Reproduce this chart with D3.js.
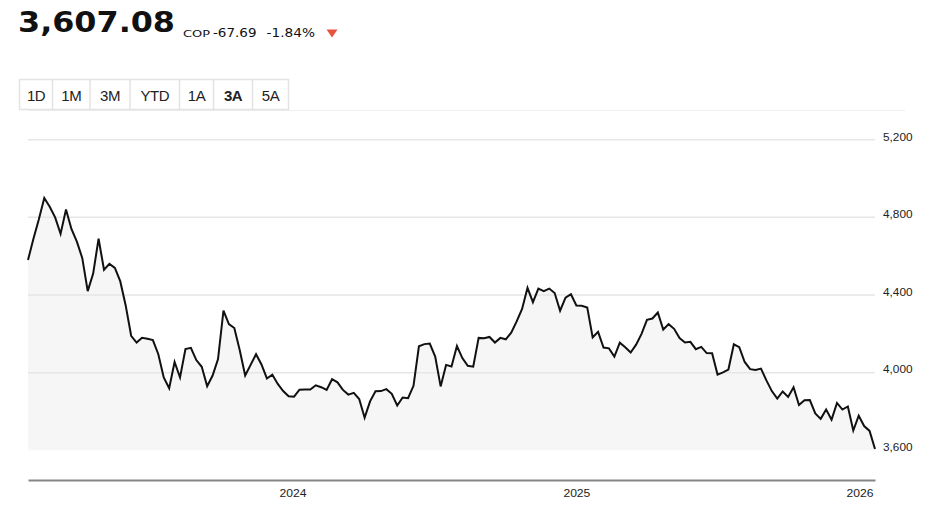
<!DOCTYPE html>
<html>
<head>
<meta charset="utf-8">
<script src="https://cdn.jsdelivr.net/npm/d3@7"></script>
<style>
  html, body { margin: 0; padding: 0; background: #fff; }
  svg { display: block; }
</style>
</head>
<body>
<svg id="chart" width="930" height="505"></svg>
<script>
// ---- data ----
const startDate = "2023-01-25";          // first weekly observation
const values = [
  4580, 4690, 4790, 4900, 4855, 4800, 4715, 4840, 4740, 4675,
  4590, 4420, 4510, 4690, 4530, 4560, 4540, 4470, 4345, 4190,
  4155, 4180, 4175, 4168, 4095, 3975, 3920, 4055, 3975, 4122,
  4128, 4065, 4030, 3930, 3985, 4070, 4320, 4250, 4230, 4115,
  3985, 4040, 4095, 4042, 3970, 3990, 3942, 3905, 3878, 3876,
  3912, 3913, 3913, 3935, 3925, 3911, 3966, 3950, 3911, 3887,
  3896, 3864, 3768, 3852, 3904, 3905, 3915, 3891, 3831, 3872,
  3868, 3932, 4136, 4147, 4150, 4083, 3929, 4040, 4032, 4137,
  4075, 4035, 4031, 4179, 4177, 4184, 4155, 4179, 4172, 4206,
  4264, 4328, 4437, 4363, 4433, 4420, 4433, 4410, 4319, 4386,
  4404, 4346, 4345, 4336, 4182, 4210, 4129, 4125, 4083, 4154,
  4131, 4104, 4144, 4200, 4272, 4279, 4310, 4222, 4250, 4226,
  4178, 4155, 4159, 4121, 4133, 4101, 4100, 3990, 4001, 4016,
  4146, 4131, 4055, 4018, 4014, 4021, 3960, 3905, 3866, 3903,
  3875, 3925, 3833, 3858, 3859, 3790, 3762, 3810, 3758, 3844,
  3810, 3826, 3702, 3778, 3725, 3700, 3607.08
];
const yTicks = [3600, 4000, 4400, 4800, 5200];
const xTickYears = ["2024", "2025", "2026"];
const buttons = ["1D", "1M", "3M", "YTD", "1A", "3A", "5A"];
const activeButton = "3A";
const header = { price: "3,607.08", currency: "COP", change: "-67.69", pct: "-1.84%" };

// ---- build ----
const parse = d3.timeParse("%Y-%m-%d");
const d0 = parse(startDate);
const data = values.map((v, i) => ({ date: d3.timeDay.offset(d0, i * 7), value: v }));

const svg = d3.select("#chart");
svg.append("rect").attr("width", 930).attr("height", 505).attr("fill", "#fff");

const left = 28, right = 875;
const x = d3.scaleTime()
  .domain([data[0].date, data[data.length - 1].date])
  .range([left, right]);
const y = d3.scaleLinear().domain([3600, 5200]).range([450.3, 139.7]);

// header
const hdr = svg.append("g");
hdr.append("text").attr("x", 18).attr("y", 32)
  .attr("font-family", "DejaVu Sans").attr("font-weight", 700).attr("font-size", 28)
  .attr("textLength", 157).attr("lengthAdjust", "spacingAndGlyphs")
  .attr("fill", "#111").text(header.price);
hdr.append("text").attr("x", 183).attr("y", 37.3)
  .attr("font-family", "DejaVu Sans").attr("font-size", 9.2)
  .attr("textLength", 27).attr("lengthAdjust", "spacingAndGlyphs")
  .attr("fill", "#111").text(header.currency);
hdr.append("text").attr("x", 213).attr("y", 37.3)
  .attr("font-family", "DejaVu Sans").attr("font-size", 12.8)
  .attr("textLength", 43.5).attr("lengthAdjust", "spacingAndGlyphs")
  .attr("fill", "#111").text(header.change);
hdr.append("text").attr("x", 266.5).attr("y", 37.3)
  .attr("font-family", "DejaVu Sans").attr("font-size", 12.8)
  .attr("textLength", 48.5).attr("lengthAdjust", "spacingAndGlyphs")
  .attr("fill", "#111").text(header.pct);
hdr.append("path").attr("d", "M326.5,29.5 L337.5,29.5 L332,37.5 Z").attr("fill", "#e8533f");

// buttons
const btnEdges = [19.5, 52.5, 90, 130, 179.5, 213.5, 252.5, 288.5];
const bg = svg.append("g");
bg.append("line").attr("x1", 28).attr("x2", 905).attr("y1", 110.5).attr("y2", 110.5)
  .attr("stroke", "#efefef").attr("stroke-width", 1);
bg.append("rect").attr("x", btnEdges[0]).attr("y", 79.5)
  .attr("width", btnEdges[7] - btnEdges[0]).attr("height", 30)
  .attr("fill", "#fff").attr("stroke", "#e3e3e3").attr("stroke-width", 1.5);
bg.selectAll("line.div").data(btnEdges.slice(1, 7)).join("line").attr("class", "div")
  .attr("x1", d => d).attr("x2", d => d).attr("y1", 79.5).attr("y2", 109.5)
  .attr("stroke", "#e3e3e3").attr("stroke-width", 1.5);
bg.selectAll("text").data(buttons).join("text")
  .attr("x", (d, i) => (btnEdges[i] + btnEdges[i + 1]) / 2)
  .attr("y", 100.5)
  .attr("text-anchor", "middle")
  .attr("font-family", "Liberation Sans, Arial, sans-serif")
  .attr("font-size", 15)
  .attr("letter-spacing", -0.5)
  .attr("font-weight", d => d === activeButton ? 700 : 400)
  .attr("fill", "#222").text(d => d);

// area + grid
const area = d3.area().x(d => x(d.date)).y0(y(3600)).y1(d => y(d.value));
svg.append("path").datum(data).attr("d", area).attr("fill", "#f6f6f6");

svg.append("g").selectAll("line").data(yTicks.filter(t => t > 3600)).join("line")
  .attr("x1", left).attr("x2", right)
  .attr("y1", d => y(d)).attr("y2", d => y(d))
  .attr("stroke", "#e6e6e6").attr("stroke-width", 1.5);

const line = d3.line().x(d => x(d.date)).y(d => y(d.value));
svg.append("path").datum(data).attr("d", line)
  .attr("fill", "none").attr("stroke", "#111").attr("stroke-width", 2)
  .attr("stroke-linejoin", "miter");

// y axis (right)
const yAxis = svg.append("g").attr("transform", `translate(${right},0)`)
  .call(d3.axisRight(y).tickValues(yTicks).tickFormat(d3.format(",")).tickSize(0));
yAxis.select(".domain").remove();
yAxis.selectAll("text").attr("x", 8).attr("dy", 0).attr("y", 0.3)
  .attr("font-family", "Liberation Sans, Arial, sans-serif").attr("font-size", 11.5)
  .attr("textLength", 29.5).attr("lengthAdjust", "spacingAndGlyphs")
  .attr("fill", "#222");

// x axis
const xTicks = xTickYears.map(s => parse(s + "-01-01"));
const xAxis = svg.append("g").attr("transform", "translate(0,480)")
  .call(d3.axisBottom(x).tickValues(xTicks).tickFormat(d3.timeFormat("%Y")).tickSize(0).tickSizeOuter(0));
xAxis.select(".domain").attr("stroke", "#858585").attr("stroke-width", 2);
xAxis.selectAll("text").attr("y", 16.5).attr("dy", 0)
  .attr("font-family", "Liberation Sans, Arial, sans-serif").attr("font-size", 11.5)
  .attr("textLength", 27).attr("lengthAdjust", "spacingAndGlyphs")
  .attr("fill", "#222");
</script>
</body>
</html>
